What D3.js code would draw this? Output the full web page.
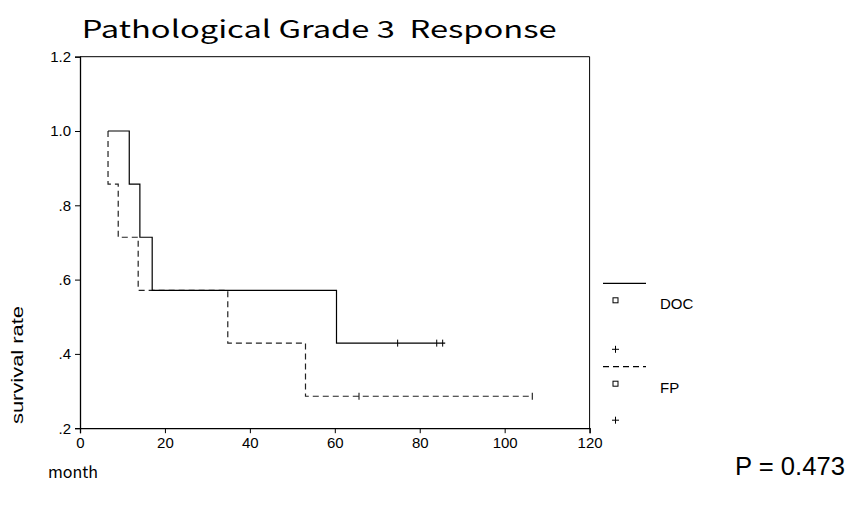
<!DOCTYPE html>
<html>
<head>
<meta charset="utf-8">
<script src="https://cdn.jsdelivr.net/npm/d3@7"></script>
<style>
  body { margin: 0; background: #fff; }
  svg text { fill: #000; }
</style>
</head>
<body>
<svg id="chart" width="857" height="531"></svg>
<script>
// Kaplan-Meier steps (months, survival)
const docTime = [6.6, 11.6, 14.1, 17.0, 60.4];
const docSurv = [1.0, 0.857, 0.714, 0.571, 0.429];
const docEnd = 86.0;
const docCensor = [74.8, 84.0, 85.4];

const fpTime = [6.6, 6.6, 9.0, 13.7, 34.8, 53.1];
const fpSurv = [1.0, 0.857, 0.714, 0.571, 0.429, 0.286];
const fpEnd = 106.5;
const fpCensor = [65.7, 106.5];

const xTicks = [0, 20, 40, 60, 80, 100, 120];
const yTicks = [0.2, 0.4, 0.6, 0.8, 1.0, 1.2];
const groups = ['DOC', 'FP'];

const svg = d3.select('#chart');
const x = d3.scaleLinear().domain([0, 120]).range([80, 589.6]);
const y = d3.scaleLinear().domain([0.2, 1.2]).range([428.2, 56.7]);

// frame (top + right)
svg.append('path')
    .attr('d', 'M' + x(0) + ',' + y(1.2) + 'H' + x(120) + 'V' + y(0.2))
    .attr('fill', 'none').attr('stroke', '#000').attr('stroke-width', 1);

const xAxis = svg.append('g')
    .attr('transform', 'translate(0,' + y(0.2) + ')')
    .call(d3.axisBottom(x).tickValues(xTicks).tickSize(5).tickPadding(4).tickFormat(d3.format('d')));
const yAxis = svg.append('g')
    .attr('transform', 'translate(' + x(0) + ',0)')
    .call(d3.axisLeft(y).tickValues(yTicks).tickSize(5).tickPadding(4)
        .tickFormat((d) => d3.format('.1f')(d).replace(/^0/, '')));
[xAxis, yAxis].forEach((a) => {
    a.selectAll('.domain').attr('stroke', '#000').attr('stroke-width', 1.3);
    a.selectAll('.tick line').attr('stroke', '#000');
    a.selectAll('text').attr('font-family', 'Liberation Sans, Arial, sans-serif')
        .attr('font-size', 15).attr('fill', '#000');
});

function km(times, surv, end) {
    const pts = times.map((t, i) => [t, surv[i]]);
    pts.push([end, surv[surv.length - 1]]);
    return pts;
}
const line = d3.line().x((d) => x(d[0])).y((d) => y(d[1])).curve(d3.curveStepAfter);

svg.append('path').attr('d', line(km(fpTime, fpSurv, fpEnd))).attr('fill', 'none')
    .attr('stroke', '#222').attr('stroke-width', 1.2).attr('stroke-dasharray', '6,4');
svg.append('path').attr('d', line(km(docTime, docSurv, docEnd))).attr('fill', 'none')
    .attr('stroke', '#000').attr('stroke-width', 1.2);

function survAt(times, surv, t) {
    let s = surv[0];
    times.forEach((tt, i) => { if (tt <= t) s = surv[i]; });
    return s;
}
function censorMarks(ts, times, surv) {
    svg.append('g').selectAll('line').data(ts).join('line')
        .attr('x1', (d) => x(d)).attr('x2', (d) => x(d))
        .attr('y1', (d) => y(survAt(times, surv, d)) - 3.5)
        .attr('y2', (d) => y(survAt(times, surv, d)) + 3.5)
        .attr('stroke', '#000').attr('stroke-width', 1);
}
censorMarks(docCensor, docTime, docSurv);
censorMarks(fpCensor, fpTime, fpSurv);

// legend
const plusOffset = [66, 53.5];
const lg = svg.append('g').selectAll('g').data(groups).join('g')
    .attr('transform', (d, i) => 'translate(0,' + (283.3 + i * 83.4) + ')');
lg.append('line').attr('x1', 603).attr('x2', 646).attr('y1', 0).attr('y2', 0)
    .attr('stroke', '#000').attr('stroke-width', 1.2)
    .attr('stroke-dasharray', (d, i) => i ? '6,4' : null);
lg.append('rect').attr('x', 613).attr('y', 14.5).attr('width', 5).attr('height', 5)
    .attr('fill', 'none').attr('stroke', '#000').attr('stroke-width', 1);
lg.append('text').attr('x', 660).attr('y', 26).text((d) => d)
    .attr('font-family', 'Liberation Sans, Arial, sans-serif').attr('font-size', 15);
lg.append('path').attr('d', (d, i) => {
        const py = plusOffset[i];
        return 'M612,' + py + 'H619M615.5,' + (py - 3.5) + 'V' + (py + 3.5);
    })
    .attr('stroke', '#000').attr('stroke-width', 1);

// titles
svg.append('text').attr('x', 81.7).attr('y', 38)
    .attr('font-family', 'Noto Sans CJK JP, sans-serif').attr('font-size', 24)
    .attr('textLength', 475).attr('lengthAdjust', 'spacingAndGlyphs')
    .style('white-space', 'pre')
    .text('Pathological Grade 3  Response');

svg.append('text').attr('transform', 'translate(23,365) rotate(-90)')
    .attr('text-anchor', 'middle')
    .attr('font-family', 'Liberation Sans, Arial, sans-serif').attr('font-size', 17)
    .attr('textLength', 118).attr('lengthAdjust', 'spacingAndGlyphs')
    .text('survival rate');

svg.append('text').attr('x', 48).attr('y', 478)
    .attr('font-family', 'Noto Sans CJK JP, sans-serif').attr('font-size', 16)
    .text('month');

svg.append('text').attr('x', 845).attr('y', 475).attr('text-anchor', 'end')
    .attr('font-family', 'Liberation Sans, Arial, sans-serif').attr('font-size', 25)
    .attr('textLength', 110).attr('lengthAdjust', 'spacingAndGlyphs')
    .text('P = 0.473');
</script>
</body>
</html>
